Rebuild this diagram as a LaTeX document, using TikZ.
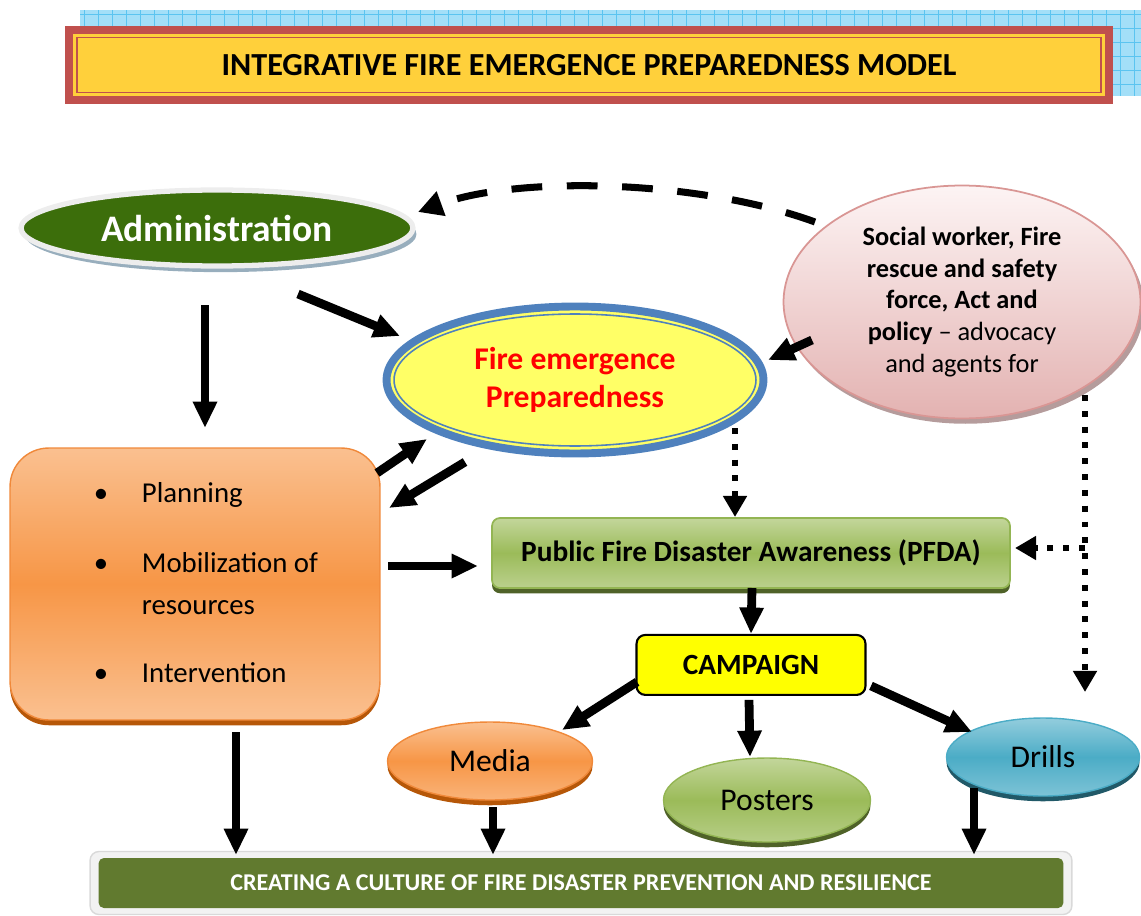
\documentclass[tikz,border=0pt]{standalone}
\usepackage{fontspec}
\setmainfont{Carlito}
\usepackage{tikz}
\usetikzlibrary{arrows.meta, positioning, shapes.geometric, shadows}
\usepackage{xcolor}

\definecolor{gridfill}{HTML}{A3DFF8}
\definecolor{gridline}{HTML}{5BC4F0}
\definecolor{titlered}{HTML}{C0504D}
\definecolor{titleyellow}{HTML}{FFD03B}
\definecolor{admingreen}{HTML}{3C6E0B}
\definecolor{adminshadow}{HTML}{98AEBD}
\definecolor{rimgray}{HTML}{EDEDED}
\definecolor{fireyellow}{HTML}{FFFF66}
\definecolor{fireblue}{HTML}{4F81BD}
\definecolor{firetext}{HTML}{FF0000}
\definecolor{socialtop}{HTML}{FDF4F4}
\definecolor{socialbottom}{HTML}{E3B2B1}
\definecolor{socialedge}{HTML}{D99694}
\definecolor{socialshadow}{HTML}{B59C9C}
\definecolor{orangelight}{HTML}{FAC090}
\definecolor{orangemid}{HTML}{F79646}
\definecolor{orangeedge}{HTML}{F0893A}
\definecolor{orangeshadow}{HTML}{B65708}
\definecolor{greenlight}{HTML}{C3D69B}
\definecolor{greenmid}{HTML}{9BBB59}
\definecolor{greenedge}{HTML}{93B553}
\definecolor{greenshadow}{HTML}{4F6228}
\definecolor{bluelight}{HTML}{93CDDD}
\definecolor{bluemid}{HTML}{4BACC6}
\definecolor{blueshadow}{HTML}{215968}
\definecolor{campaignyellow}{HTML}{FFFF00}
\definecolor{framegray}{HTML}{F2F2F2}
\definecolor{frameedge}{HTML}{D9D9D9}
\definecolor{culturegreen}{HTML}{617A2F}

\tikzset{
  title_box/.style={fill=titleyellow, draw=titlered, line width=1.1pt,
    preaction={draw=titleyellow, line width=4.5pt},
    minimum width=20.5cm, minimum height=1.1cm, inner sep=0pt,
    font=\fontsize{18.3}{22}\selectfont\bfseries},
  admin_oval/.style={ellipse, inner sep=0pt, minimum width=7.84cm, minimum height=1.52cm,
    fill=admingreen, draw=rimgray, line width=3pt, text=white,
    font=\fontsize{21.3}{25}\selectfont\bfseries,
    drop shadow={shadow xshift=2pt, shadow yshift=-3.5pt, fill=adminshadow, opacity=1}},
  fire_oval/.style={ellipse, inner sep=0pt, minimum width=7.54cm, minimum height=2.94cm,
    fill=fireyellow, draw=fireblue, line width=4.5pt, text=firetext, align=center,
    font=\fontsize{18}{21.5}\selectfont\bfseries},
  social_oval/.style={ellipse, inner sep=0pt, minimum width=7.14cm, minimum height=4.66cm,
    top color=socialtop, bottom color=socialbottom, draw=socialedge, line width=1pt,
    align=center, font=\fontsize{15}{18.1}\selectfont,
    drop shadow={shadow xshift=2pt, shadow yshift=-3pt, fill=socialshadow, opacity=1}},
  action_box/.style={rectangle, rounded corners=22pt, minimum width=7.4cm, minimum height=5.44cm,
    top color=orangelight, bottom color=orangelight, middle color=orangemid,
    draw=orangeedge, line width=0.8pt, align=left,
    font=\fontsize{16.4}{23.8}\selectfont,
    drop shadow={shadow xshift=0pt, shadow yshift=-3pt, fill=orangeshadow, opacity=1}},
  pfda_box/.style={rectangle, rounded corners=4.5pt, minimum width=10.36cm, minimum height=1.4cm,
    top color=greenlight, bottom color=greenlight!80!greenmid, middle color=greenmid,
    draw=greenedge, line width=1pt, font=\fontsize{16.7}{20}\selectfont\bfseries,
    drop shadow={shadow xshift=0pt, shadow yshift=-3pt, fill=greenshadow, opacity=1}},
  campaign_box/.style={rectangle, rounded corners=5pt, minimum width=4.58cm, minimum height=1.2cm,
    fill=campaignyellow, draw=black, line width=1.2pt,
    font=\fontsize{16.7}{20}\selectfont\bfseries},
  channel_oval/.style={ellipse, inner sep=0pt, font=\fontsize{18}{22}\selectfont,
    drop shadow={shadow xshift=0pt, shadow yshift=-3pt, fill=#1, opacity=1}},
  culture_frame/.style={rectangle, rounded corners=5pt, minimum width=19.64cm, minimum height=1.26cm,
    fill=framegray, draw=frameedge, line width=0.8pt},
  culture_bar/.style={rectangle, rounded corners=3pt, minimum width=19.3cm, minimum height=1cm,
    fill=culturegreen, text=white, font=\fontsize{13.7}{16}\selectfont\bfseries},
}

\begin{document}
\begin{tikzpicture}[x=0.02cm, y=-0.02cm,
    bold_arrow/.style={-{Triangle[length=15pt, width=13pt]}, line width=5pt},
    dot_arrow/.style={-{Triangle[length=12pt, width=13pt]}, line width=3.4pt, dash pattern=on 3.4pt off 5.6pt},
    dash_arrow/.style={-{Triangle[length=14pt, width=14pt]}, line width=4pt, dash pattern=on 17.5pt off 14pt}]
    \useasboundingbox (0,0) rectangle (1141,915);

    % header
    \fill[gridfill] (80,10) rectangle (1141,96);
    \draw[gridline, line width=0.3pt, step=0.28cm] (80,10) grid (1141,96);
    \node[fill=titlered, minimum width=20.96cm, minimum height=1.56cm] (title_frame) at (589,65) {};
    \node[title_box] (title) at (589,65) {INTEGRATIVE FIRE EMERGENCE PREPAREDNESS MODEL};

    % main blocks
    \node[admin_oval] (admin) at (217,228) {Administration};
    \node[fire_oval] (fire_prep) at (575,380) {Fire emergence\\Preparedness};
    \draw[fireblue, line width=0.9pt] (fire_prep.center) ellipse [x radius=3.62cm, y radius=1.32cm];
    \node[social_oval] (social) at (962,302) {\textbf{Social worker, Fire}\\\textbf{rescue and safety}\\\textbf{force, Act and}\\\textbf{policy} -- advocacy\\and agents for};
    \node[action_box] (actions) at (195,584) {\hspace*{0.44cm}\begin{tabular}{@{}p{0.96cm}@{}l@{}}
        \textbullet & Planning\\[16pt]
        \textbullet & Mobilization of\\
                    & resources\\[15pt]
        \textbullet & Intervention
      \end{tabular}};
    \node[pfda_box] (pfda) at (751,553) {Public Fire Disaster Awareness (PFDA)};
    \node[campaign_box] (campaign) [below=0.9cm of pfda] {CAMPAIGN};

    % campaign channels
    \node[channel_oval=orangeshadow, minimum width=4.1cm, minimum height=1.56cm,
      top color=orangelight, bottom color=orangelight!70!orangemid, middle color=orangemid,
      draw=orangeedge, line width=0.8pt] (media) at (490,761) {Media};
    \node[channel_oval=greenshadow, minimum width=4.14cm, minimum height=1.68cm,
      top color=greenlight, bottom color=greenlight!70!greenmid, middle color=greenmid,
      draw=greenedge, line width=0.8pt] (posters) at (767,800) {Posters};
    \node[channel_oval=blueshadow, minimum width=3.86cm, minimum height=1.56cm,
      top color=bluelight, bottom color=bluelight!70!bluemid, middle color=bluemid,
      draw=bluemid, line width=0.8pt] (drills) at (1043,757) {Drills};

    \node[culture_frame] (culture_frame) at (581,883) {};
    \node[culture_bar] (culture) at (581,883) {CREATING A CULTURE OF FIRE DISASTER PREVENTION AND RESILIENCE};

    % arrows
    \draw[bold_arrow] ([shift={(81,66)}]admin.center) -- ([shift={(-175,-44)}]fire_prep.center);
    \draw[bold_arrow] ([shift={(-12,77)}]admin.center) -- ([shift={(10,-156)}]actions.center);
    \draw[dash_arrow] ([shift={(-147,-80)}]social.center) .. controls +(-115,-42) and +(102,-37) .. ([shift={(201,-16)}]admin.center);
    \draw[bold_arrow] ([shift={(-150,38)}]social.center) -- ([shift={(193,-20)}]fire_prep.center);
    \draw[bold_arrow] ([shift={(182,-111)}]actions.center) -- ([shift={(-148,59)}]fire_prep.center);
    \draw[bold_arrow] ([shift={(-110,82)}]fire_prep.center) -- ([shift={(194,-76)}]actions.center);
    \draw[bold_arrow] ([shift={(193,-18)}]actions.center) -- ([shift={(-273,13)}]pfda.center);
    \draw[dot_arrow] ([shift={(160,48)}]fire_prep.center) -- ([shift={(-16,-36)}]pfda.center);
    \draw[dot_arrow] ([shift={(123,93)}]social.center) -- ([shift={(42,-65)}]drills.center);
    \coordinate (drill_branch) at ([shift={(123,246)}]social.center);
    \draw[dot_arrow] (drill_branch) -- ([shift={(264,-5)}]pfda.center);
    \draw[bold_arrow] ([shift={(1,35)}]pfda.center) -- ([shift={(0,-31)}]campaign.center);
    \draw[bold_arrow] ([shift={(-114,17)}]campaign.center) -- ([shift={(72,-31)}]media.center);
    \draw[bold_arrow] ([shift={(-2,35)}]campaign.center) -- ([shift={(-17,-43)}]posters.center);
    \draw[bold_arrow] ([shift={(120,21)}]campaign.center) -- ([shift={(-71,-25)}]drills.center);
    \draw[bold_arrow] ([shift={(41,148)}]actions.center) -- ([shift={(-345,-28)}]culture.center);
    \draw[bold_arrow] ([shift={(3,46)}]media.center) -- ([shift={(-88,-28)}]culture.center);
    \draw[bold_arrow] ([shift={(-69,31)}]drills.center) -- ([shift={(393,-28)}]culture.center);
\end{tikzpicture}
\end{document}
